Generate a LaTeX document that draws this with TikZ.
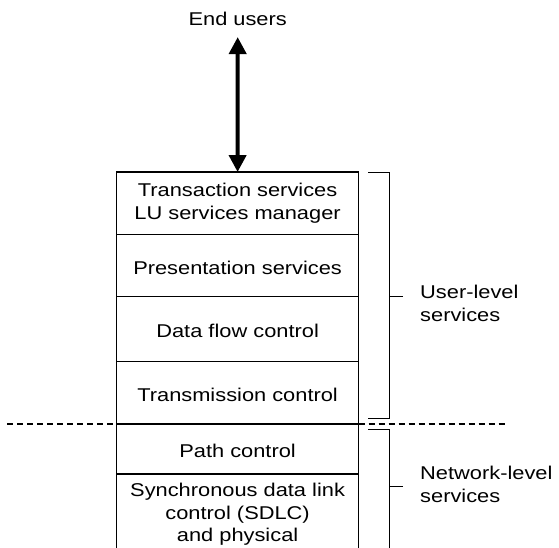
\documentclass[tikz,border=0pt]{standalone}
\usepackage{fontspec}
\setmainfont{Liberation Sans}[FakeStretch=1.18]
\usetikzlibrary{arrows.meta}
\tikzset{
  txt/.style={font=\fontsize{18.5}{22.5}\selectfont, inner sep=0pt},
  layer/.style={txt, draw, line width=1.1pt, outer sep=0pt, minimum width=241.8pt, anchor=north, align=center},
  oneline/.style={text height=17pt, text depth=0pt},
  brk/.style={line width=1pt},
  sep/.style={line width=1.1pt, dash pattern=on 6pt off 4pt},
  bigarrow/.style={line width=4pt, {Triangle[length=17pt,width=17pt]}-{Triangle[length=17pt,width=17pt]}}
}
\begin{document}
\begin{tikzpicture}[x=1pt,y=-1pt]
\clip (0,0) rectangle (559,547);
\fill[white] (0,0) rectangle (559,547);

\node[txt, anchor=base] (eu) at (237.7,25) {End users};

\node[layer, minimum height=62.3pt] (ts) at (237.6,172) {Transaction services\\LU services manager};
\node[layer, oneline, minimum height=62.5pt] (ps) at (237.6,234.3) {Presentation services};
\node[layer, oneline, minimum height=65pt] (df) at (237.6,296.8) {Data flow control};
\node[layer, oneline, minimum height=62.2pt] (tc) at (237.6,361.8) {Transmission control};
\node[layer, oneline, minimum height=50pt] (pc) at (237.6,424) {Path control};
\node[layer, minimum height=80.8pt] (sd) at (237.6,474) {Synchronous data link\\control (SDLC)\\and physical};

\draw[bigarrow, shorten <=11.7pt] (eu.south) -- (ts.north);

\coordinate (dl) at (7,424);
\coordinate (dr) at (505,424);
\draw[sep] (dl) -- (tc.west |- dl);
\draw[sep] (tc.east |- dr) -- (dr);

% user-level bracket
\coordinate (ua) at (368,172.3);
\coordinate (ub) at (389,172.3);
\coordinate (uc) at (389,418.3);
\coordinate (ud) at (368,418.3);
\coordinate (ut) at (403,296.7);
\draw[brk] (ua) -- (ub) -- (uc) -- (ud);
\draw[brk] (ut) -- (ut -| ub);
\node[txt, anchor=west, align=left] (ul) at (420,303.3) {User-level\\services};

% network-level bracket
\coordinate (na) at (368,429.3);
\coordinate (nb) at (389,429.3);
\coordinate (nc) at (389,560);
\coordinate (nt) at (403,486.7);
\draw[brk] (na) -- (nb) -- (nc);
\draw[brk] (nt) -- (nt -| nb);
\node[txt, anchor=west, align=left] (nl) at (420,484.3) {Network-level\\services};
\end{tikzpicture}
\end{document}
